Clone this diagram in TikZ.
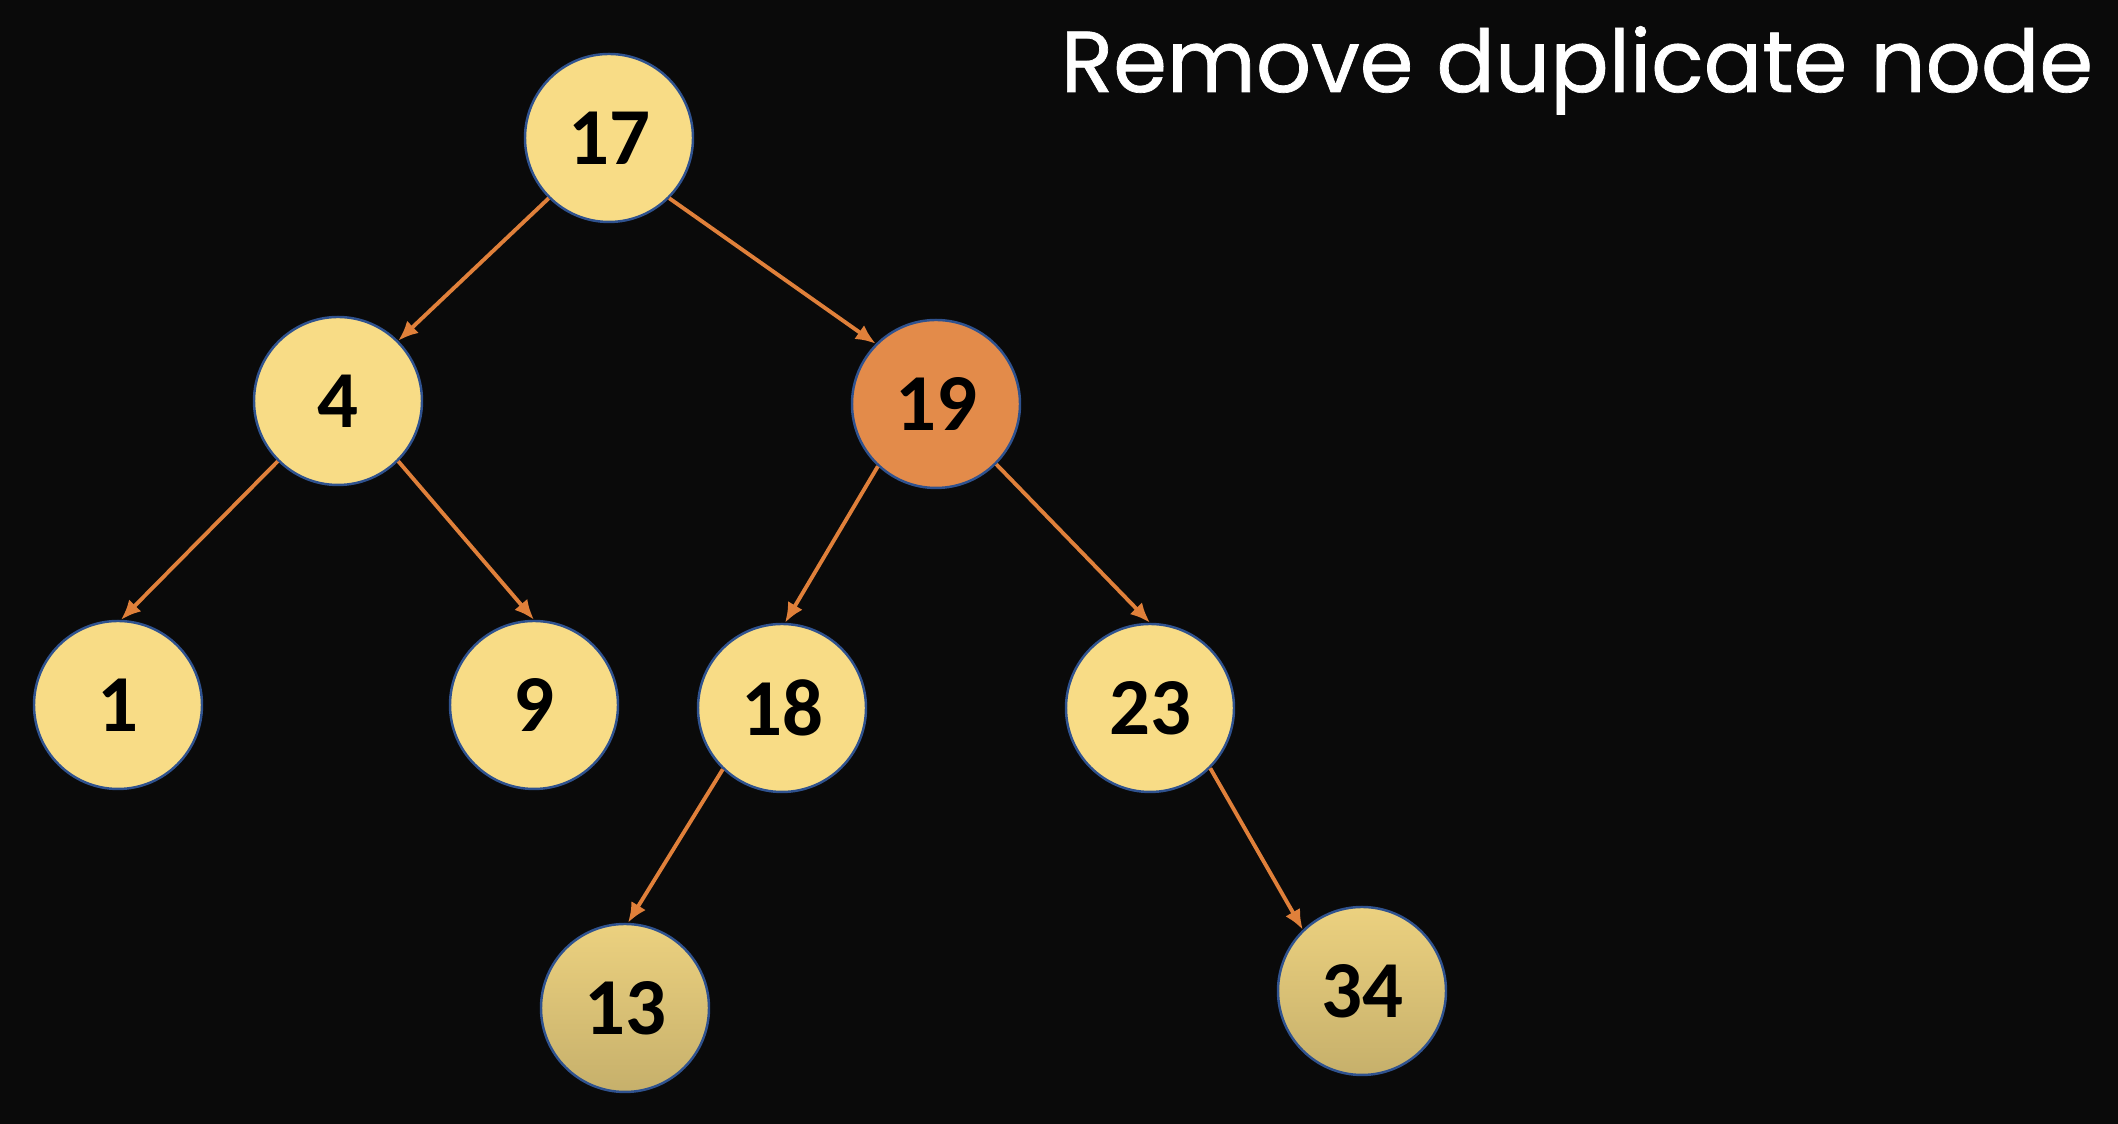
\documentclass[tikz,border=0pt]{standalone}
\usepackage{fontspec}
\setmainfont{Carlito}
\newfontfamily\titlefont[FakeBold=0.8]{Poppins}
\usetikzlibrary{arrows.meta}
\definecolor{bg}{HTML}{0A0A0A}
\definecolor{keyfill}{HTML}{F8DC86}
\definecolor{dupfill}{HTML}{E38B4A}
\definecolor{edge}{HTML}{2F528F}
\definecolor{linkcol}{HTML}{E0803A}

\begin{document}
\begin{tikzpicture}
\tikzstyle{every node}+=[inner sep=0pt]
\tikzstyle{key}=[circle, draw=edge, line width=0.7pt, fill=keyfill, minimum size=1.68cm, font=\fontsize{23}{23}\selectfont\bfseries]
\tikzstyle{newkey}=[key, top color=keyfill!95!black, bottom color=keyfill!80!black]
\tikzstyle{link}=[linkcol, line width=1.1pt, -{Latex[length=2mm,width=1.7mm]}]
\fill [bg] (0,0) rectangle (21.18,11.24);
\node [anchor=base west, text=white, font=\titlefont\fontsize{24.6}{24.6}\selectfont] (title) at (10.60,10.32) {Remove duplicate node};
% tree
\node [key] (k17) at (6.09,9.86) {17};
\node [key] (k4) at (3.38,7.23) {4};
\node [key, fill=dupfill] (k19) at (9.36,7.20) {19};
\node [key] (k1) at (1.18,4.19) {1};
\node [key] (k9) at (5.34,4.19) {9};
\node [key] (k18) at (7.82,4.16) {18};
\node [key] (k23) at (11.50,4.16) {23};
\node [newkey] (k13) at (6.25,1.16) {13};
\node [newkey] (k34) at (13.62,1.33) {34};
\draw [link] (k17.225) -- (k4.45);
\draw [link] (k17.315) -- (k19.135);
\draw [link] (k4.225) -- (k1.88);
\draw [link] (k4.315) -- (k9.north);
\draw [link] (k19.227) -- (k18.88);
\draw [link] (k19.315) -- (k23.north);
\draw [link] (k18.226) -- (k13.88);
\draw [link] (k23.315) -- (k34.134);
\end{tikzpicture}
\end{document}
